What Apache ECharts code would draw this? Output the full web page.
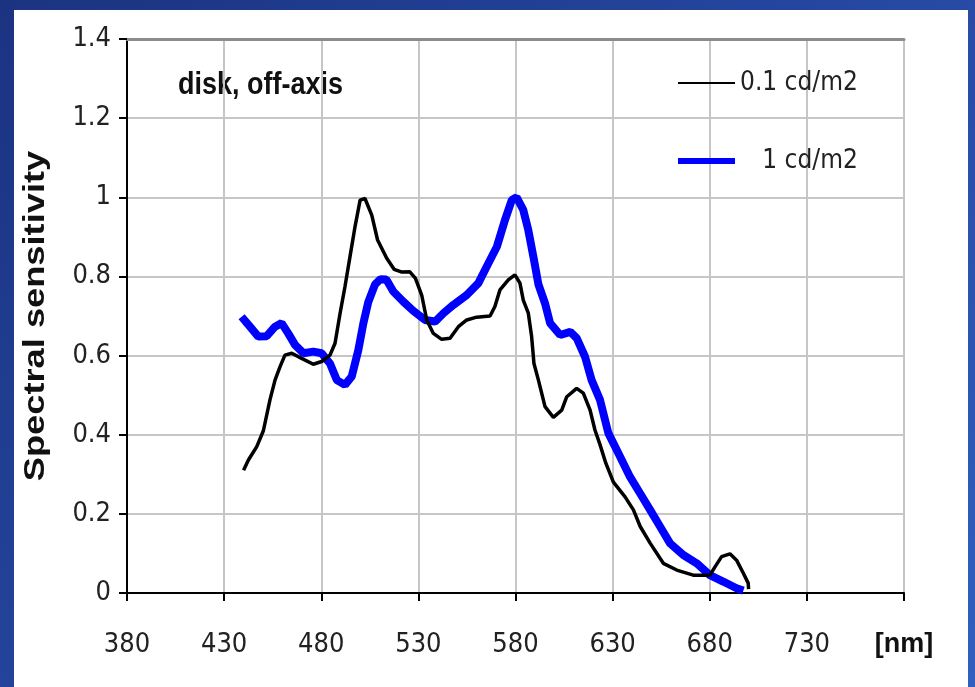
<!DOCTYPE html>
<html><head><meta charset="utf-8">
<script src="https://cdn.jsdelivr.net/npm/echarts@6/dist/echarts.min.js"></script>
<style>
html,body{margin:0;padding:0;}
body{width:975px;height:687px;overflow:hidden;position:relative;background:linear-gradient(135deg,#1b3381 0%,#2649a3 55%,#3060bf 100%);}
#panel{position:absolute;left:14px;top:10px;width:954px;height:677px;background:#fff;}
#chart{position:absolute;left:0;top:0;width:975px;height:687px;}
</style></head><body>
<div id="panel"></div><div id="chart"></div>
<script>
// ---- data ----
const seriesNames = ['0.1 cd/m2', '1 cd/m2'];
const xUnitLabel = '[nm]';
const xMin = 380, xMax = 780, xStep = 50;
const yMin = 0, yMax = 1.4, yStep = 0.2;
const chartNote = 'disk, off-axis';
const yTitle = 'Spectral sensitivity';

const lowNm = [440,442.5,446.8,450.2,453.6,456.2,458.8,461.3,464.8,469.9,475.9,480.2,484.5,487.1,489.7,492.2,494.8,497.4,500,502.5,506,509,513.7,517.5,521.5,525.5,528.5,531.7,534.3,537.7,542,546.3,550.6,554.9,560,566.9,569.4,572,576.3,579.7,582.3,584,586.6,588.3,589.5,591.8,595.2,599.5,603.8,606.4,611.5,614.9,618.4,620.9,623.5,626.5,630.4,636.4,640.7,644.2,649.3,656.1,663,671.5,680.1,682.7,686.1,690.4,693.8,697.3,699.8,700];
const lowVal = [0.31,0.336,0.37,0.41,0.488,0.538,0.572,0.601,0.606,0.593,0.578,0.585,0.601,0.631,0.707,0.774,0.85,0.926,0.993,0.997,0.955,0.892,0.846,0.818,0.811,0.812,0.795,0.753,0.69,0.656,0.641,0.644,0.673,0.69,0.697,0.70,0.724,0.766,0.791,0.804,0.783,0.74,0.707,0.648,0.58,0.538,0.471,0.444,0.462,0.496,0.517,0.505,0.462,0.412,0.375,0.328,0.28,0.243,0.21,0.168,0.126,0.075,0.058,0.045,0.045,0.066,0.092,0.099,0.083,0.05,0.025,0.01];

const highNm = [439,443.3,447.6,451.9,456.2,459.6,463,466.5,470.8,475.9,480.2,484.5,488,492.2,495.7,499.1,501.7,504.2,507.7,510.5,513.5,517.1,522.3,527.4,533.4,538.6,542.9,548,554.9,560.9,565.2,570.4,574.6,578.1,580.6,584,586.6,589.2,591.8,595.2,597.8,603,608.2,611.5,615.8,619.2,623.5,627.8,633.8,638.9,644.1,649.3,654.4,659.5,666.4,673.3,680.1,686.9,693.8,697.3];
const highVal = [0.698,0.673,0.648,0.649,0.673,0.682,0.656,0.627,0.606,0.61,0.606,0.58,0.538,0.526,0.547,0.614,0.682,0.735,0.78,0.793,0.792,0.762,0.736,0.713,0.69,0.686,0.707,0.728,0.753,0.783,0.825,0.875,0.943,0.993,1.0,0.968,0.917,0.85,0.78,0.732,0.682,0.652,0.66,0.644,0.597,0.538,0.488,0.404,0.345,0.294,0.252,0.21,0.168,0.126,0.096,0.075,0.045,0.029,0.012,0.006];

// ---- chart ----
const NARROW = '"Liberation Sans Narrow","DejaVu Sans Condensed",sans-serif';
const chart = echarts.init(document.getElementById('chart'), null, {renderer:'canvas'});
const pair = (xs, ys) => xs.map((x, i) => [x, ys[i]]);
chart.setOption({
  backgroundColor: 'transparent',
  animation: false,
  grid: {left:127, right:71, top:39, bottom:94},
  xAxis: [{
    type:'value', min:xMin, max:xMax, interval:xStep,
    axisLine:{show:true, onZero:false, lineStyle:{color:'#000', width:2}},
    axisTick:{show:true, length:8, lineStyle:{color:'#000', width:2}},
    axisLabel:{margin:38, fontFamily:NARROW, fontSize:27, color:'#222', showMaxLabel:true, showMinLabel:true,
      formatter: v => v === xMax ? '{u|' + xUnitLabel + '}' : String(v),
      rich:{u:{fontFamily:'"Liberation Sans",Arial,sans-serif', fontWeight:'bold', fontSize:27, color:'#111'}}},
    splitLine:{show:true, lineStyle:{color:'#c6c6c6', width:2}}
  },{
    type:'value', position:'top', min:xMin, max:xMax, interval:xStep,
    axisLine:{show:true, onZero:false, lineStyle:{color:'#8c8c8c', width:3}},
    axisTick:{show:false}, axisLabel:{show:false}, splitLine:{show:false}
  }],
  yAxis: {
    type:'value', min:yMin, max:yMax, interval:yStep,
    axisLine:{show:true, lineStyle:{color:'#000', width:2}},
    axisTick:{show:true, length:8, lineStyle:{color:'#000', width:2}},
    axisLabel:{margin:16, fontFamily:NARROW, fontSize:27, color:'#222', formatter: v => String(+v.toFixed(1))},
    splitLine:{show:true, lineStyle:{color:'#c6c6c6', width:2}}
  },
  legend: {
    orient:'vertical', left:678, top:70, padding:0,
    itemWidth:57, itemHeight:30, itemGap:52, selectedMode:false,
    textStyle:{fontFamily:NARROW, fontSize:26, color:'#222', padding:[6,0,0,0]},
    formatter: n => n === seriesNames[1] ? '   ' + n : n,
    data:[
      {name:seriesNames[0], icon:'path://M0,0H57V2H0Z'},
      {name:seriesNames[1], icon:'path://M0,0H57V6H0Z'}
    ]
  },
  graphic: [
    {type:'text', x:178, y:85, scaleY:1.15, silent:true,
     style:{text:chartNote, font:'bold 27px "Liberation Sans",Arial,sans-serif', fill:'#111', textVerticalAlign:'middle'}},
    {type:'text', x:36, y:316, rotation:Math.PI/2, scaleX:1.25, silent:true,
     style:{text:yTitle, font:'bold 29px "Liberation Sans",Arial,sans-serif', fill:'#111', textAlign:'center', textVerticalAlign:'middle'}}
  ],
  series: [
    {name:seriesNames[1], type:'line', data:pair(highNm, highVal), symbol:'none', smooth:false,
     lineStyle:{color:'#0000ff', width:8}, itemStyle:{color:'#0000ff'}, z:2},
    {name:seriesNames[0], type:'line', data:pair(lowNm, lowVal), symbol:'none', smooth:false,
     lineStyle:{color:'#000', width:3.5}, itemStyle:{color:'#000'}, z:3}
  ]
});
</script>
</body></html>
